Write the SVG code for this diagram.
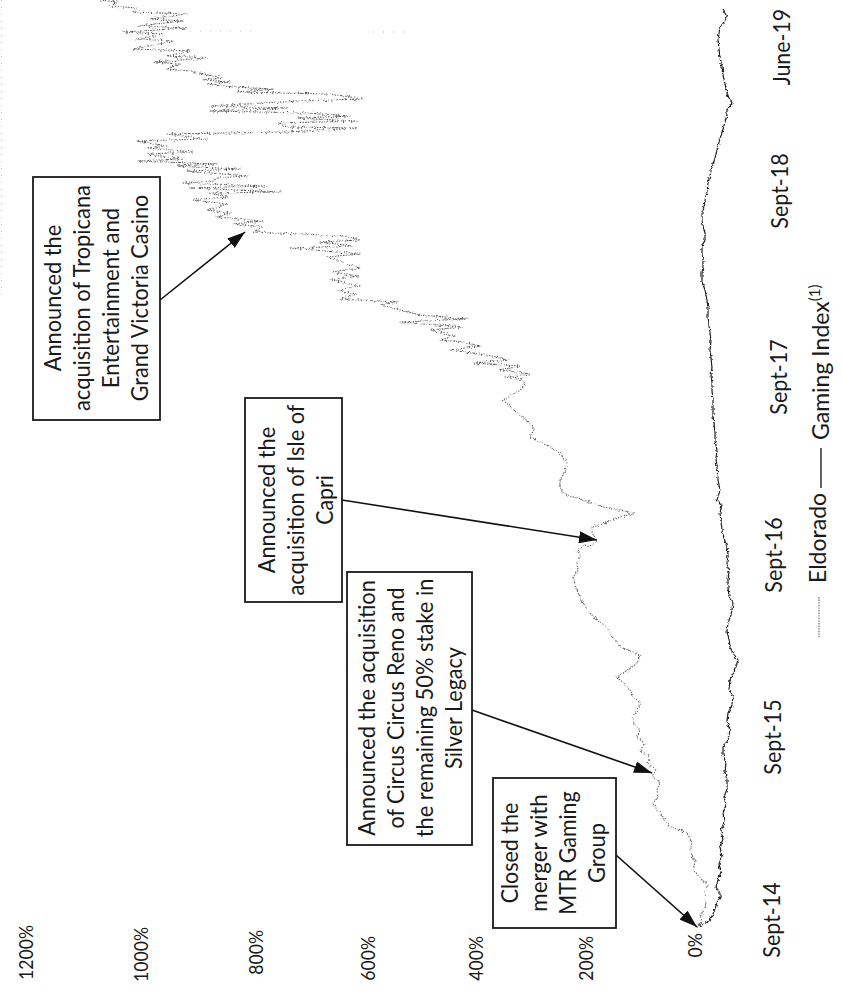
<svg xmlns="http://www.w3.org/2000/svg" width="842" height="993" viewBox="0 0 842 993">
<defs>
<style>
.t{font-family:Lato,"Liberation Sans",sans-serif;fill:#1a1a1a}
.bx{font-size:23.5px}
.ax{font-size:20px}
.dt{font-size:24px}
.lg{font-size:23px}
.box{fill:#fff;stroke:#1a1a1a;stroke-width:1.8}
.conn{stroke:#111;stroke-width:1.6;fill:none;marker-end:url(#ah)}
.eld{fill:none;stroke:#5a5a5a;stroke-width:1.1;stroke-linejoin:round;stroke-dasharray:1.4 1.3}
.gam{fill:none;stroke:#1e1e1e;stroke-width:1.2;stroke-linejoin:round}
</style>
<marker id="ah" viewBox="0 0 18 12" refX="18" refY="6" markerUnits="userSpaceOnUse" markerWidth="18" markerHeight="12" orient="auto">
<path d="M0,0 L18,6 L0,12 z" fill="#111"/>
</marker>
<filter id="jit" filterUnits="userSpaceOnUse" x="0" y="0" width="842" height="993">
<feTurbulence type="fractalNoise" baseFrequency="0.35" numOctaves="2" seed="4" result="n"/>
<feDisplacementMap in="SourceGraphic" in2="n" scale="4" xChannelSelector="R" yChannelSelector="G"/>
</filter>
</defs>
<rect x="0" y="0" width="842" height="993" fill="#fff"/>

<g id="artifacts" stroke="#bbb" stroke-width="1" fill="none">
<line x1="1.5" y1="0" x2="1.5" y2="300" stroke-dasharray="1 6"/>
<line x1="190" y1="31" x2="260" y2="31" stroke-dasharray="1 9"/>
<line x1="373" y1="32" x2="407" y2="32" stroke-dasharray="1 9"/>
</g>

<g id="series-eldorado" filter="url(#jit)">
<polyline class="eld" points="697,927 702,922 700,917 706,905 705,893 708,885 700,878 693,870 695,862 690,850 692,842 687,833 680,830 670,827 666,822 663,817 658,810 653,803 658,797 657,790 660,783 652,776 657,770 647,763 650,757 640,750 645,744 637,737 640,730 634,724 633,717 638,710 640,703 633,697 630,690 624,684 617,677 625,672 637,663 640,655 628,650 620,647 615,640 610,633 605,626 598,620 593,617 588,610 583,603 580,596 577,590 575,584 573,577 578,570 577,563 580,556 577,550 585,545 590,547 597,540 592,533 593,527 605,523 618,518 635,513 620,510 603,507 592,503 583,500 570,496 563,493 560,486 560,480 565,472 567,463 563,458 560,453 555,450 550,447 540,442 530,437 534,430 530,423 524,418 517,413 510,406 503,400 512,395 520,390 525,385 523,380 505,377 530,374 500,370 520,366 473,363 510,360 487,355 450,350 480,346 463,342 440,340 455,336 430,330 463,327 400,322 467,319 420,315 400,310 380,305 398,302 360,300 340,299 356,294 337,290 360,286 330,280 358,276 332,272 360,268 345,263 327,257 360,254 290,248 353,246 320,242 360,240 345,236 300,234 253,232 263,227 233,224 263,221 217,217 230,213 207,210 227,204 193,200 227,197 210,193 280,192 190,188 267,186 182,183 213,181 217,178 247,176 187,171 240,169 177,166 217,164 137,161 183,159 147,154 193,152 147,148 167,146 137,141 207,139 167,134 287,132 357,128 287,127 277,123 357,121 297,118 350,116 307,113 210,111 287,108 210,106 300,101 363,99 330,94 237,92 273,89 233,87 207,84 230,82 203,80 223,78 190,71 167,69 180,64 153,62 207,58 167,56 190,51 133,49 173,41 137,39 163,34 123,32 187,28 137,26 183,21 150,19 187,14 133,12 137,8 110,6 117,2 100,0"/>
</g>

<g id="series-gaming" filter="url(#jit)">
<polyline class="gam" points="697,927 704,924 710,920 713,914 717,903 720,897 720,893 716,887 718,880 721,872 719,864 722,856 720,847 723,839 721,831 724,822 723,813 726,805 724,797 727,789 727,780 725,772 726,763 723,755 723,747 728,740 730,730 727,722 728,713 732,705 733,697 729,689 730,680 734,672 738,660 733,653 730,647 729,639 727,631 728,623 731,615 733,603 729,596 728,588 728,580 729,572 727,563 728,555 727,547 724,538 722,530 721,521 720,513 722,505 717,500 720,490 718,480 717,467 716,458 717,450 715,441 715,433 714,424 713,416 713,408 713,400 712,391 712,383 711,375 712,367 711,358 710,350 711,341 710,333 709,325 708,317 708,308 707,300 705,290 702,282 702,273 703,267 703,259 702,253 702,247 705,240 705,233 703,226 702,220 702,213 704,207 705,200 707,192 708,183 710,175 712,167 715,158 717,150 719,142 722,133 725,122 727,115 727,110 732,103 729,98 727,93 725,84 723,75 722,67 720,58 719,49 718,40 719,33 720,27 724,22 727,17 725,13 723,10"/>
</g>

<g id="axis-values" class="t ax" text-anchor="end">
<text transform="translate(33,925) rotate(-90)" textLength="54.9" lengthAdjust="spacingAndGlyphs">1200%</text>
<text transform="translate(148,927) rotate(-90)" textLength="54.9" lengthAdjust="spacingAndGlyphs">1000%</text>
<text transform="translate(263,930) rotate(-90)" textLength="44.7" lengthAdjust="spacingAndGlyphs">800%</text>
<text transform="translate(375,936) rotate(-90)" textLength="44.7" lengthAdjust="spacingAndGlyphs">600%</text>
<text transform="translate(483,936) rotate(-90)" textLength="44.7" lengthAdjust="spacingAndGlyphs">400%</text>
<text transform="translate(593,936) rotate(-90)" textLength="44.7" lengthAdjust="spacingAndGlyphs">200%</text>
<text transform="translate(702,933) rotate(-90)" textLength="24.4" lengthAdjust="spacingAndGlyphs">0%</text>
</g>

<g id="axis-dates" class="t dt" text-anchor="middle">
<text transform="translate(780,920) rotate(-90)" textLength="75.3" lengthAdjust="spacingAndGlyphs">Sept-14</text>
<text transform="translate(781,737) rotate(-90)" textLength="75.3" lengthAdjust="spacingAndGlyphs">Sept-15</text>
<text transform="translate(782,555) rotate(-90)" textLength="75.3" lengthAdjust="spacingAndGlyphs">Sept-16</text>
<text transform="translate(787,377) rotate(-90)" textLength="75.3" lengthAdjust="spacingAndGlyphs">Sept-17</text>
<text transform="translate(788,191) rotate(-90)" textLength="75.3" lengthAdjust="spacingAndGlyphs">Sept-18</text>
<text transform="translate(790,47) rotate(-90)" textLength="76.5" lengthAdjust="spacingAndGlyphs">June-19</text>
</g>

<g id="legend">
<line x1="819" y1="597" x2="819" y2="637" stroke="#777" stroke-width="1.3" stroke-dasharray="1.4 1.2"/>
<text class="t lg" transform="translate(826,583) rotate(-90)">Eldorado</text>
<line x1="821" y1="448" x2="821" y2="488" stroke="#222" stroke-width="1.4"/>
<text class="t lg" transform="translate(829,440) rotate(-90)">Gaming Index<tspan dy="-9" font-size="15px">(1)</tspan></text>
</g>

<g id="connectors">
<line class="conn" x1="160" y1="300" x2="245" y2="232"/>
<line class="conn" x1="342" y1="500" x2="597" y2="540"/>
<line class="conn" x1="472" y1="710" x2="652" y2="773"/>
<line class="conn" x1="616" y1="855" x2="697" y2="927"/>
</g>

<g id="note-tropicana">
<rect class="box" x="33" y="177" width="127" height="243"/>
<g class="t bx" text-anchor="middle">
<text transform="translate(61,298) rotate(-90)" textLength="146.5" lengthAdjust="spacingAndGlyphs">Announced the</text>
<text transform="translate(90,298) rotate(-90)" textLength="226" lengthAdjust="spacingAndGlyphs">acquisition of Tropicana</text>
<text transform="translate(119,298) rotate(-90)" textLength="180.4" lengthAdjust="spacingAndGlyphs">Entertainment and</text>
<text transform="translate(148,298) rotate(-90)" textLength="206.7" lengthAdjust="spacingAndGlyphs">Grand Victoria Casino</text>
</g>
</g>

<g id="note-isle">
<rect class="box" x="245" y="398" width="97" height="204"/>
<g class="t bx" text-anchor="middle">
<text transform="translate(275,500) rotate(-90)" textLength="146.5" lengthAdjust="spacingAndGlyphs">Announced the</text>
<text transform="translate(304,500) rotate(-90)" textLength="191" lengthAdjust="spacingAndGlyphs">acquisition of Isle of</text>
<text transform="translate(333,500) rotate(-90)" textLength="49.7" lengthAdjust="spacingAndGlyphs">Capri</text>
</g>
</g>

<g id="note-circus">
<rect class="box" x="347" y="572" width="125" height="273"/>
<g class="t bx" text-anchor="middle">
<text transform="translate(375,708) rotate(-90)" textLength="255.7" lengthAdjust="spacingAndGlyphs">Announced the acquisition</text>
<text transform="translate(404,708) rotate(-90)" textLength="241.1" lengthAdjust="spacingAndGlyphs">of Circus Circus Reno and</text>
<text transform="translate(433,708) rotate(-90)" textLength="258.7" lengthAdjust="spacingAndGlyphs">the remaining 50% stake in</text>
<text transform="translate(462,708) rotate(-90)" textLength="121.9" lengthAdjust="spacingAndGlyphs">Silver Legacy</text>
</g>
</g>

<g id="note-mtr">
<rect class="box" x="493" y="778" width="123" height="150"/>
<g class="t bx" text-anchor="middle">
<text transform="translate(518,853) rotate(-90)" textLength="100.7" lengthAdjust="spacingAndGlyphs">Closed the</text>
<text transform="translate(547,853) rotate(-90)" textLength="117.4" lengthAdjust="spacingAndGlyphs">merger with</text>
<text transform="translate(576,853) rotate(-90)" textLength="123.3" lengthAdjust="spacingAndGlyphs">MTR Gaming</text>
<text transform="translate(605,853) rotate(-90)" textLength="60.1" lengthAdjust="spacingAndGlyphs">Group</text>
</g>
</g>
</svg>
